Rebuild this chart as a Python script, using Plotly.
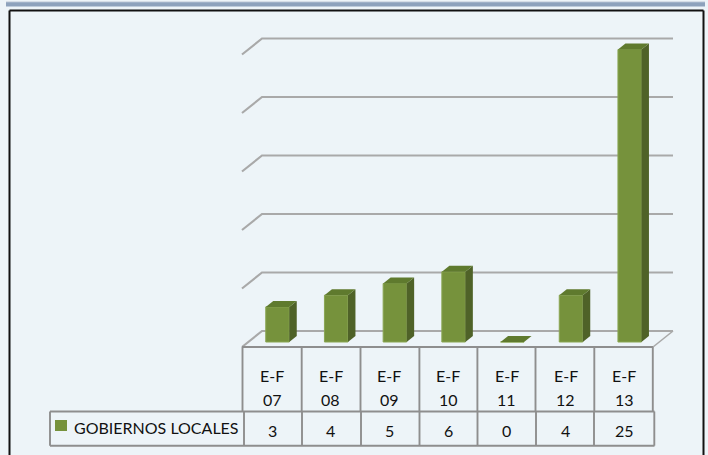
import plotly.graph_objects as go

periods = ["E-F", "E-F", "E-F", "E-F", "E-F", "E-F", "E-F"]
years = ["07", "08", "09", "10", "11", "12", "13"]
values = [3, 4, 5, 6, 0, 4, 25]
series_name = "GOBIERNOS LOCALES"
grid_values = [0, 5, 10, 15, 20, 25]

W, H = 708, 455
FONT = "Lato, Carlito, Open Sans, sans-serif"
TXT = "#111111"
GRID = "#A9A9A9"
TABLE = "#8E8E8E"
FRONT, SIDE, TOP = "#76923C", "#4F6228", "#5F7A2E"
BG = "#EDF4F8"

# scale: one category = 58.7 px, one unit = 11.7 px; category 0 centred at x=277.5, value 0 at y=342
PX_X, PX_Y, X0, Y0 = 58.7, 11.7, 277.5, 342.0
dx = lambda p: p / PX_X
dy = lambda p: p / PX_Y
BAR_W = 23.5 / PX_X
BAR_DX, BAR_DY = dx(7.5), dy(6)
FL_DX, FL_DY = dx(20), dy(16)
left = (242 - X0) / PX_X
right = (653 - X0) / PX_X
front0 = (Y0 - 347) / PX_Y
LABEL_SHIFT = dx(-5.5)

fig = go.Figure()
shapes = []

# back wall gridlines with their side-wall diagonals, kept beneath the bars
for g in grid_values:
    path = (f"M {left} {front0 + g} L {left + FL_DX} {front0 + g + FL_DY} "
            f"L {right + FL_DX} {front0 + g + FL_DY}")
    shapes.append(dict(type="path", xref="x", yref="y", path=path, layer="below",
                       line=dict(color=GRID, width=2.2)))
# right edge of the floor
shapes.append(dict(type="line", xref="x", yref="y", x0=right, x1=right + FL_DX, y0=front0, y1=front0 + FL_DY,
                   layer="below", line=dict(color=GRID, width=1.6)))

xs = list(range(len(values)))
# side and top faces come from the same values as the bars
for i, v in zip(xs, values):
    l, r = i - BAR_W / 2, i + BAR_W / 2
    if v > 0:
        fig.add_trace(go.Scatter(
            x=[r, r + BAR_DX, r + BAR_DX, r, r], y=[0, BAR_DY, v + BAR_DY, v, 0],
            fill="toself", fillcolor=SIDE, mode="lines", line=dict(width=0, color=SIDE),
            hoverinfo="skip", showlegend=False))
    fig.add_trace(go.Scatter(
        x=[l, l + BAR_DX, r + BAR_DX, r, l], y=[v, v + BAR_DY, v + BAR_DY, v, v],
        fill="toself", fillcolor=TOP, mode="lines", line=dict(width=0, color=TOP),
        hoverinfo="skip", showlegend=False))

fig.add_trace(go.Bar(x=xs, y=values, width=BAR_W, name=series_name,
                     marker=dict(color=FRONT, line=dict(width=1, color="#8AA653")), showlegend=False))

paper_x = lambda p: p / W
paper_y = lambda p: 1 - p / H
def rect(x0, y0, x1, y1, **kw):
    shapes.append(dict(type="rect", xref="paper", yref="paper", x0=paper_x(x0), x1=paper_x(x1),
                       y0=paper_y(y0), y1=paper_y(y1), layer="below", **kw))
def line(x0, y0, x1, y1, color=TABLE, width=1.9, layer="above"):
    shapes.append(dict(type="line", xref="paper", yref="paper", x0=paper_x(x0), x1=paper_x(x1),
                       y0=paper_y(y0), y1=paper_y(y1), layer=layer, line=dict(color=color, width=width)))

# top banner and open-bottomed frame
rect(6, 1.5, 705, 6.5, fillcolor="#8DA2BC", line=dict(width=0))
rect(6, 1, 705, 2.2, fillcolor="#D5DDE6", line=dict(width=0))
line(9.5, 457, 9.5, 10.5, color="#111111", width=2)
line(9.5, 10.5, 703.5, 10.5, color="#111111", width=2)
line(703.5, 10.5, 703.5, 457, color="#111111", width=2)

# data table
cols_top = [242.5, 301.7, 360.5, 419.4, 477.4, 535.5, 594.3, 652.8]
cols_low = [244, 302, 361, 419.5, 477.5, 536, 594, 654.3]
line(242, 347, 653, 347)
for c in cols_top:
    line(c, 347, c, 411.5)
line(50, 411.5, 654.5, 411.5)
line(50, 445.7, 654.5, 445.7)
line(50, 411.5, 50, 445.7)
for c in cols_low:
    line(c, 411.5, c, 445.7)
rect(55, 420, 67, 431, fillcolor=FRONT, line=dict(width=0))

ann = []
def label(x, xref, ypx, text, anchor="center", size=16):
    ann.append(dict(x=x, xref=xref, y=paper_y(ypx), yref="paper", text=text, showarrow=False,
                    xanchor=anchor, yanchor="middle", font=dict(family=FONT, size=size, color=TXT)))
for i, (p, yr, v) in enumerate(zip(periods, years, values)):
    label(i + LABEL_SHIFT, "x", 375, p)
    label(i + LABEL_SHIFT, "x", 399, yr)
    label(i + LABEL_SHIFT, "x", 430, str(v))
label(paper_x(71.5), "paper", 427, series_name, anchor="left")

fig.update_layout(
    width=W, height=H, autosize=False, margin=dict(l=0, r=0, t=0, b=0),
    paper_bgcolor=BG, plot_bgcolor="rgba(0,0,0,0)", shapes=shapes, annotations=ann,
    xaxis=dict(range=[-X0 / PX_X, (W - X0) / PX_X], visible=False, domain=[0, 1], fixedrange=True),
    yaxis=dict(range=[(Y0 - H) / PX_Y, Y0 / PX_Y], visible=False, domain=[0, 1], fixedrange=True),
)
fig.write_html("out.html", config=dict(displayModeBar=False),
               post_script="document.body.style.margin='0';document.documentElement.style.overflow='hidden';")
